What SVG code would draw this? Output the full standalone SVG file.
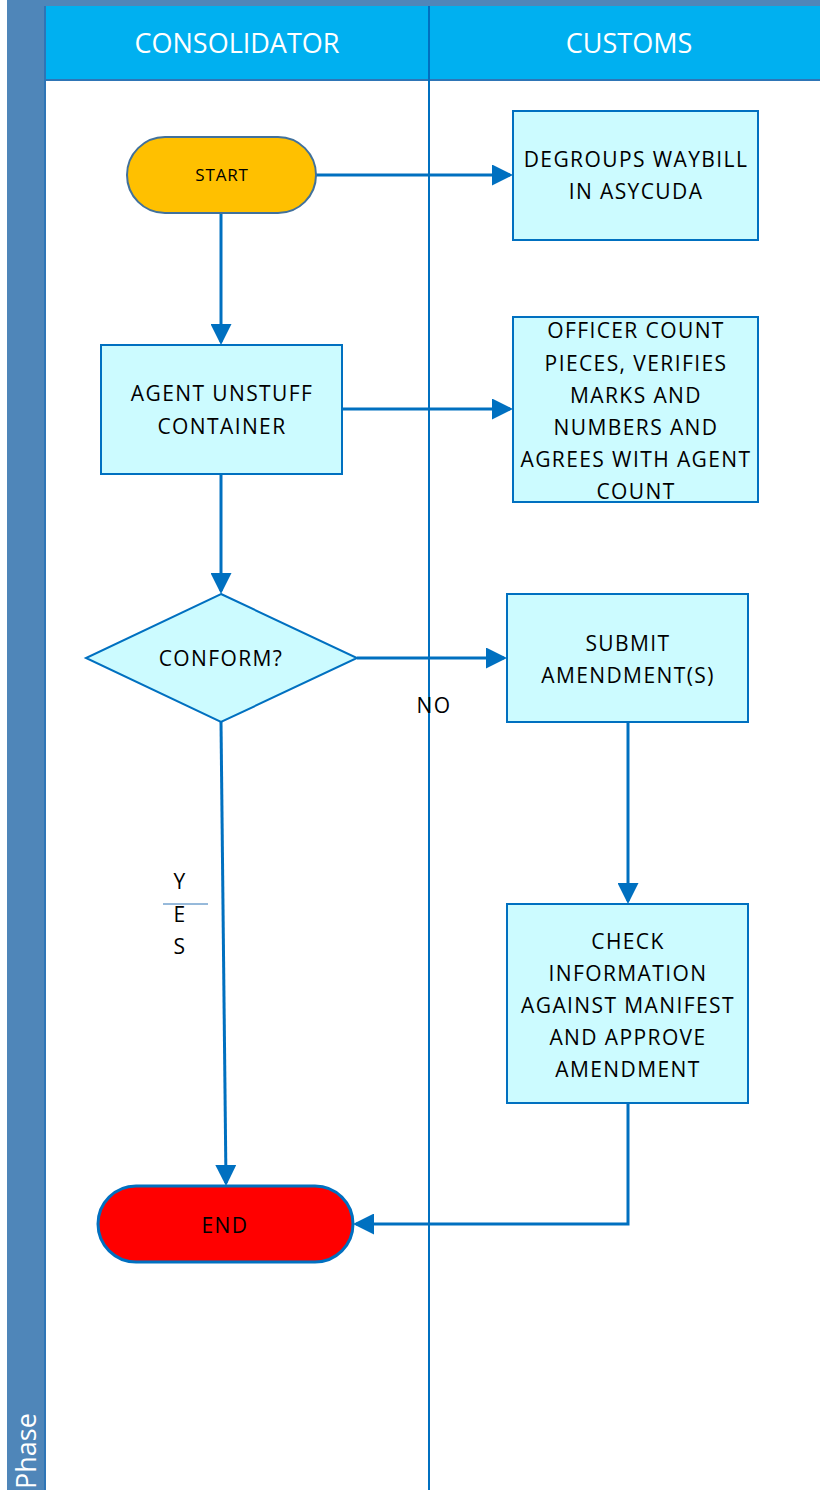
<svg xmlns="http://www.w3.org/2000/svg" width="820" height="1490" viewBox="0 0 820 1490">
<style>
.t{font-family:"Open Sans","Noto Sans",sans-serif;fill:#000;text-anchor:middle;font-size:21px;letter-spacing:1.4px}
.box{fill:#ccfbff;stroke:#0070c0;stroke-width:2}
.c{fill:none;stroke:#0070c0;stroke-width:3}
.hd{font-family:"Open Sans","Noto Sans",sans-serif;fill:#fff;font-size:27px;text-anchor:middle}
</style>
<defs>
<marker id="ah" markerWidth="7" markerHeight="7" refX="6" refY="3.5" orient="auto" markerUnits="strokeWidth">
<path d="M0,0 L7,3.5 L0,7 z" fill="#0070c0"/>
</marker>
</defs>
<rect x="0" y="0" width="820" height="1490" fill="#fff"/>
<g id="pool">
<rect x="7" y="0" width="813" height="6" fill="#4f86b9"/>
<rect x="7" y="0" width="38" height="1490" fill="#4f86b9"/>
<rect x="45" y="6" width="775" height="74" fill="#00b0f0"/>
<line x1="45" y1="80" x2="820" y2="80" stroke="#2e75b6" stroke-width="2"/>
<line x1="45" y1="6" x2="45" y2="1490" stroke="#2e75b6" stroke-width="2"/>
<line x1="429" y1="6" x2="429" y2="1490" stroke="#0070c0" stroke-width="2"/>
<text class="hd" x="237" y="53">CONSOLIDATOR</text>
<text class="hd" x="629" y="53">CUSTOMS</text>
<text transform="translate(36,1489) rotate(-90)" font-family="Open Sans, Noto Sans, sans-serif" font-size="27" fill="#fff">Phase</text>
</g>
<g id="connectors">
<line class="c" x1="316" y1="175" x2="510" y2="175" marker-end="url(#ah)"/>
<line class="c" x1="221" y1="213" x2="221" y2="342" marker-end="url(#ah)"/>
<line class="c" x1="342" y1="409" x2="510" y2="409" marker-end="url(#ah)"/>
<line class="c" x1="221" y1="474" x2="221" y2="591" marker-end="url(#ah)"/>
<line class="c" x1="357" y1="658" x2="504" y2="658" marker-end="url(#ah)"/>
<line class="c" x1="221" y1="722" x2="226" y2="1183" marker-end="url(#ah)"/>
<line class="c" x1="628" y1="722" x2="628" y2="901" marker-end="url(#ah)"/>
<polyline class="c" points="628,1103 628,1224 356,1224" marker-end="url(#ah)"/>
<text class="t" x="434" y="713">NO</text>
<text class="t" x="180" y="889">Y</text>
<line x1="163" y1="904" x2="208" y2="904" stroke="#2e75b6" stroke-width="1"/>
<text class="t" x="180" y="922">E</text>
<text class="t" x="180" y="954">S</text>
</g>
<g id="start">
<rect x="127" y="137" width="189" height="76" rx="38" fill="#ffc000" stroke="#41719c" stroke-width="2"/>
<text class="t" x="222" y="181" style="font-size:17px;letter-spacing:0.8px">START</text>
</g>
<g id="degroups">
<rect class="box" x="513" y="111" width="245" height="129"/>
<text class="t"><tspan x="636" y="167">DEGROUPS WAYBILL</tspan><tspan x="636" y="199">IN ASYCUDA</tspan></text>
</g>
<g id="agent">
<rect class="box" x="101" y="345" width="241" height="129"/>
<text class="t"><tspan x="222" y="401">AGENT UNSTUFF</tspan><tspan x="222" y="434">CONTAINER</tspan></text>
</g>
<g id="officer">
<rect class="box" x="513" y="317" width="245" height="185"/>
<text class="t"><tspan x="636" y="338">OFFICER COUNT</tspan><tspan x="636" y="371">PIECES, VERIFIES</tspan><tspan x="636" y="403">MARKS AND</tspan><tspan x="636" y="435">NUMBERS AND</tspan><tspan x="636" y="467">AGREES WITH AGENT</tspan><tspan x="636" y="499">COUNT</tspan></text>
</g>
<g id="conform">
<polygon points="221,594 357,658 221,722 86,658" fill="#ccfbff" stroke="#0070c0" stroke-width="2"/>
<text class="t" x="221" y="666">CONFORM?</text>
</g>
<g id="submit">
<rect class="box" x="507" y="594" width="241" height="128"/>
<text class="t"><tspan x="628" y="651">SUBMIT</tspan><tspan x="628" y="683">AMENDMENT(S)</tspan></text>
</g>
<g id="check">
<rect class="box" x="507" y="904" width="241" height="199"/>
<text class="t"><tspan x="628" y="949">CHECK</tspan><tspan x="628" y="981">INFORMATION</tspan><tspan x="628" y="1013">AGAINST MANIFEST</tspan><tspan x="628" y="1045">AND APPROVE</tspan><tspan x="628" y="1077">AMENDMENT</tspan></text>
</g>
<g id="end">
<rect x="98" y="1186" width="255" height="76" rx="38" fill="#ff0000" stroke="#0070c0" stroke-width="3"/>
<text class="t" x="225" y="1233">END</text>
</g>
</svg>
